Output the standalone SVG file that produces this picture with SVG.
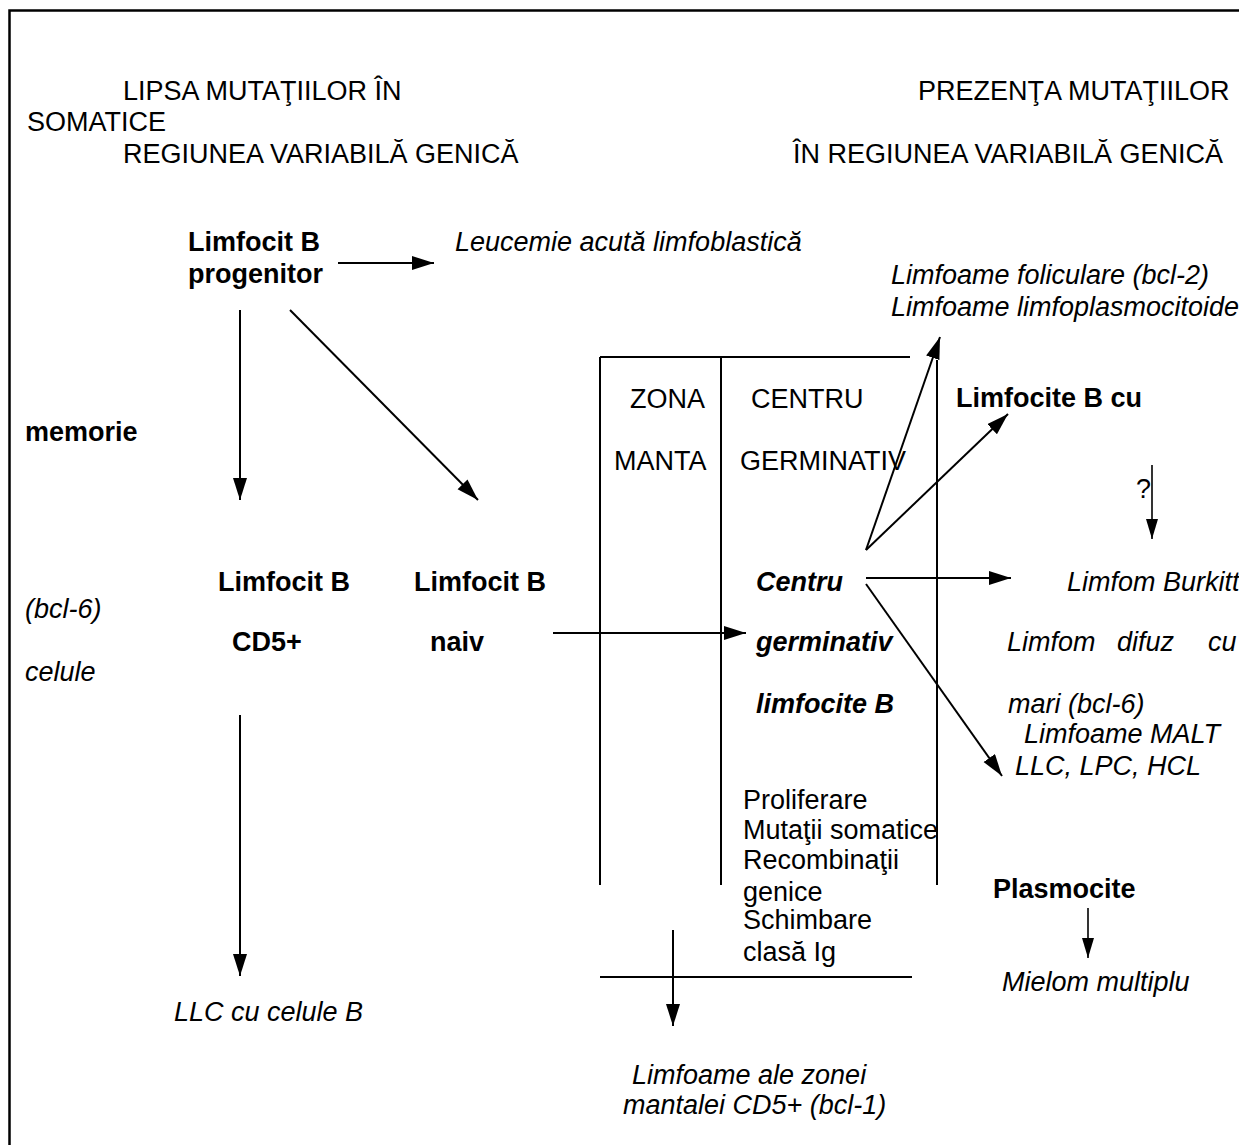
<svg xmlns="http://www.w3.org/2000/svg" width="1239" height="1145" viewBox="0 0 1239 1145">
  <style>
    text { font-family: "Liberation Sans", Arial, sans-serif; font-size: 27px; fill: #000; }
    .b { font-weight: bold; }
    .i { font-style: italic; }
    .bi { font-weight: bold; font-style: italic; }
    .frame { fill: none; stroke: #000; stroke-width: 2.5; }
    .ln { fill: none; stroke: #000; stroke-width: 2; }
    .arr { fill: none; stroke: #000; stroke-width: 2; marker-end: url(#head); }
    .arr-s { fill: none; stroke: #000; stroke-width: 1.6; marker-end: url(#head-s); }
  </style>
  <defs>
    <marker id="head" markerUnits="userSpaceOnUse" markerWidth="24" markerHeight="16" refX="22" refY="7" orient="auto">
      <path d="M0,0 L22,7 L0,14 z" fill="#000"/>
    </marker>
    <marker id="head-s" markerUnits="userSpaceOnUse" markerWidth="22" markerHeight="14" refX="20" refY="6" orient="auto">
      <path d="M0,0 L20,6 L0,12 z" fill="#000"/>
    </marker>
  </defs>
  <rect width="1239" height="1145" fill="#fff"/>

  <!-- page frame: top and left edges only -->
  <path class="frame" d="M9.5,1145 L9.5,10.5 L1239,10.5"/>

  <!-- column headers -->
  <g id="header-left">
    <text x="123" y="100">LIPSA MUTAŢIILOR ÎN</text>
    <text x="27" y="131">SOMATICE</text>
    <text x="123" y="163">REGIUNEA VARIABILĂ GENICĂ</text>
  </g>
  <g id="header-right">
    <text x="918" y="100">PREZENŢA MUTAŢIILOR</text>
    <text x="793" y="163">ÎN REGIUNEA VARIABILĂ GENICĂ</text>
  </g>

  <!-- follicle zones -->
  <g id="follicle">
    <path class="ln" d="M600,357 L910,357"/>
    <path class="ln" d="M600,357 L600,885"/>
    <path class="ln" d="M721,357 L721,885"/>
    <path class="ln" d="M937,360 L937,885"/>
    <path class="ln" d="M600,977 L912,977"/>
    <text x="630" y="408">ZONA</text>
    <text x="614" y="470">MANTA</text>
    <text x="751" y="408">CENTRU</text>
    <text x="740" y="470">GERMINATIV</text>
  </g>

  <g id="progenitor">
    <text class="b" x="188" y="251">Limfocit B</text>
    <text class="b" x="188" y="283">progenitor</text>
  </g>
  <g id="leucemie">
    <text class="i" x="455" y="251">Leucemie acută limfoblastică</text>
  </g>
  <g id="foliculare">
    <text class="i" x="891" y="284">Limfoame foliculare (bcl-2)</text>
    <text class="i" x="891" y="316">Limfoame limfoplasmocitoide</text>
  </g>
  <g id="memorie-label">
    <text class="b" x="25" y="441">memorie</text>
    <text class="i" x="25" y="618">(bcl-6)</text>
    <text class="i" x="25" y="681">celule</text>
  </g>
  <g id="cd5">
    <text class="b" x="218" y="591">Limfocit B</text>
    <text class="b" x="232" y="651">CD5+</text>
  </g>
  <g id="naiv">
    <text class="b" x="414" y="591">Limfocit B</text>
    <text class="b" x="430" y="651">naiv</text>
  </g>
  <g id="centru-germinativ">
    <text class="bi" x="756" y="591">Centru</text>
    <text class="bi" x="756" y="651">germinativ</text>
    <text class="bi" x="756" y="713">limfocite B</text>
  </g>
  <g id="procese">
    <text x="743" y="809">Proliferare</text>
    <text x="743" y="839">Mutaţii somatice</text>
    <text x="743" y="869">Recombinaţii</text>
    <text x="743" y="901">genice</text>
    <text x="743" y="929">Schimbare</text>
    <text x="743" y="961">clasă Ig</text>
  </g>
  <g id="limfocite-memorie">
    <text class="b" x="956" y="407">Limfocite B cu</text>
    <text x="1136" y="498">?</text>
  </g>
  <g id="burkitt">
    <text class="i" x="1067" y="591">Limfom Burkitt</text>
    <text class="i" y="651"><tspan x="1007">Limfom</tspan><tspan x="1117">difuz</tspan><tspan x="1208">cu</tspan></text>
    <text class="i" x="1008" y="713">mari (bcl-6)</text>
    <text class="i" x="1024" y="743">Limfoame MALT</text>
    <text class="i" x="1015" y="775">LLC, LPC, HCL</text>
  </g>
  <g id="plasmocite">
    <text class="b" x="993" y="898">Plasmocite</text>
  </g>
  <g id="mielom">
    <text class="i" x="1002" y="991">Mielom multiplu</text>
  </g>
  <g id="llc">
    <text class="i" x="174" y="1021">LLC cu celule B</text>
  </g>
  <g id="manta-limfoame">
    <text class="i" x="632" y="1084">Limfoame ale zonei</text>
    <text class="i" x="623" y="1114">mantalei CD5+ (bcl-1)</text>
  </g>

  <!-- connectors -->
  <g id="connectors">
    <path class="arr" d="M338,263 L434,263"/>
    <path class="arr" d="M240,310 L240,500"/>
    <path class="arr" d="M290,310 L478,500"/>
    <path class="arr" d="M240,715 L240,976"/>
    <path class="arr" d="M553,633 L746,633"/>
    <path class="arr" d="M866,550 L940,337"/>
    <path class="arr" d="M866,550 L1008,414"/>
    <path class="arr" d="M866,578 L1011,578"/>
    <path class="arr" d="M866,584 L1002,776"/>
    <path class="arr-s" d="M1152,465 L1152,539"/>
    <path class="arr-s" d="M1088,908 L1088,958"/>
    <path class="arr" d="M673,930 L673,1026"/>
  </g>
</svg>
